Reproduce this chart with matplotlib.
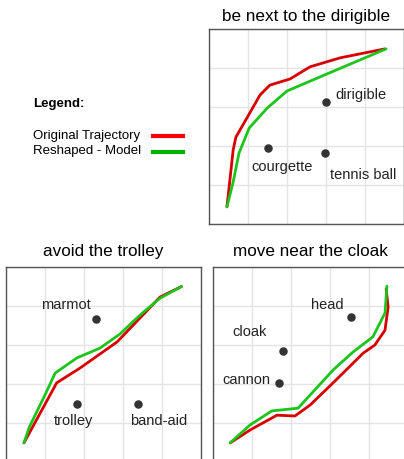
import matplotlib.pyplot as plt

plt.rcParams['font.family'] = ['Liberation Sans', 'DejaVu Sans']

RED = "#d80000"
GREEN = "#1cc41c"

# panel 1: be next to the dirigible
p1_title = "be next to the dirigible"
p1_orig_x = [0.46, 0.62, 0.69, 0.87, 1.31, 1.56, 2.08, 2.59, 3.36, 4.51]
p1_orig_y = [0.44, 1.90, 2.23, 2.54, 3.31, 3.56, 3.72, 4.03, 4.26, 4.49]
p1_model_x = [0.46, 0.62, 0.77, 1.03, 1.49, 2.00, 3.03, 4.54]
p1_model_y = [0.44, 1.08, 1.82, 2.46, 2.97, 3.41, 3.85, 4.49]
p1_objects = ["dirigible", "courgette", "tennis ball"]
p1_obj_x = [3.00, 1.51, 2.97]
p1_obj_y = [3.13, 1.95, 1.82]

# panel 2: avoid the trolley
p2_title = "avoid the trolley"
p2_orig_x = [0.46, 1.30, 1.90, 2.85, 3.95, 4.50]
p2_orig_y = [0.49, 2.03, 2.41, 3.08, 4.23, 4.50]
p2_model_x = [0.46, 0.60, 1.00, 1.26, 1.82, 2.41, 2.92, 3.44, 3.95, 4.50]
p2_model_y = [0.49, 0.90, 1.72, 2.28, 2.67, 2.92, 3.28, 3.77, 4.20, 4.50]
p2_objects = ["marmot", "trolley", "band-aid"]
p2_obj_x = [2.31, 1.82, 3.38]
p2_obj_y = [3.67, 1.49, 1.49]

# panel 3: move near the cloak
p3_title = "move near the cloak"
p3_orig_x = [0.44, 0.95, 1.64, 2.10, 2.49, 3.08, 3.85, 4.15, 4.41, 4.49, 4.44]
p3_orig_y = [0.49, 0.82, 1.20, 1.18, 1.46, 2.03, 2.79, 3.00, 3.38, 3.97, 4.44]
p3_model_x = [0.44, 0.95, 1.51, 2.18, 3.08, 3.59, 4.10, 4.41, 4.46]
p3_model_y = [0.49, 0.95, 1.31, 1.38, 2.36, 2.82, 3.21, 3.82, 4.51]
p3_objects = ["head", "cloak", "cannon"]
p3_obj_x = [3.54, 1.79, 1.69]
p3_obj_y = [3.72, 2.85, 2.03]

W, H = 404, 459
fig = plt.figure(figsize=(W / 100, H / 100), dpi=100)


def px_axes(left, top, size=195):
    return fig.add_axes([left / W, (H - top - size) / H, size / W, size / H])


def draw_panel(ax, title, ox, oy, mx, my, names, bx, by, label_pos, pad=6):
    ax.set_xlim(0, 5)
    ax.set_ylim(0, 5)
    ax.set_xticks(range(6))
    ax.set_yticks(range(6))
    ax.set_xticklabels([])
    ax.set_yticklabels([])
    ax.tick_params(length=0)
    ax.grid(True, color="#e4e4e4", linewidth=1.0)
    ax.set_axisbelow(True)
    for s in ax.spines.values():
        s.set_color("#555555")
        s.set_linewidth(1.0)
    ax.plot(ox, oy, color=RED, linewidth=2.0, solid_capstyle="round")
    ax.plot(mx, my, color=GREEN, linewidth=2.0, solid_capstyle="round")
    ax.scatter(bx, by, s=26, color="#333333", zorder=5)
    for name, (tx, ty, ha) in zip(names, label_pos):
        ax.text(tx, ty, name, fontsize=10.5, ha=ha, va="center", color="#222222")
    ax.set_title(title, fontsize=12.3, pad=pad)


ax1 = px_axes(209, 29)
draw_panel(ax1, p1_title, p1_orig_x, p1_orig_y, p1_model_x, p1_model_y,
           p1_objects, p1_obj_x, p1_obj_y,
           [(3.23, 3.31, "left"), (1.87, 1.46, "center"), (3.95, 1.26, "center")])

ax2 = px_axes(6, 267)
draw_panel(ax2, p2_title, p2_orig_x, p2_orig_y, p2_model_x, p2_model_y,
           p2_objects, p2_obj_x, p2_obj_y,
           [(1.54, 4.03, "center"), (1.74, 1.05, "center"), (3.92, 1.05, "center")],
           pad=8)

ax3 = px_axes(213, 267)
draw_panel(ax3, p3_title, p3_orig_x, p3_orig_y, p3_model_x, p3_model_y,
           p3_objects, p3_obj_x, p3_obj_y,
           [(2.92, 4.03, "center"), (0.95, 3.33, "center"), (0.85, 2.10, "center")],
           pad=8)

# legend block
fig.text(33 / W, 1 - 104 / H, "Legend:", fontsize=9.5, fontweight="bold", va="center", ha="left")
fig.text(33 / W, 1 - 136 / H, "Original Trajectory", fontsize=9.5, va="center", ha="left")
fig.text(33 / W, 1 - 151 / H, "Reshaped - Model", fontsize=9.5, va="center", ha="left")
fig.add_artist(plt.Line2D([153 / W, 183 / W], [1 - 136 / H, 1 - 136 / H], color="#ff0000", linewidth=3))
fig.add_artist(plt.Line2D([153 / W, 183 / W], [1 - 152 / H, 1 - 152 / H], color="#00b000", linewidth=3))

fig.savefig("out.png", dpi=100)
